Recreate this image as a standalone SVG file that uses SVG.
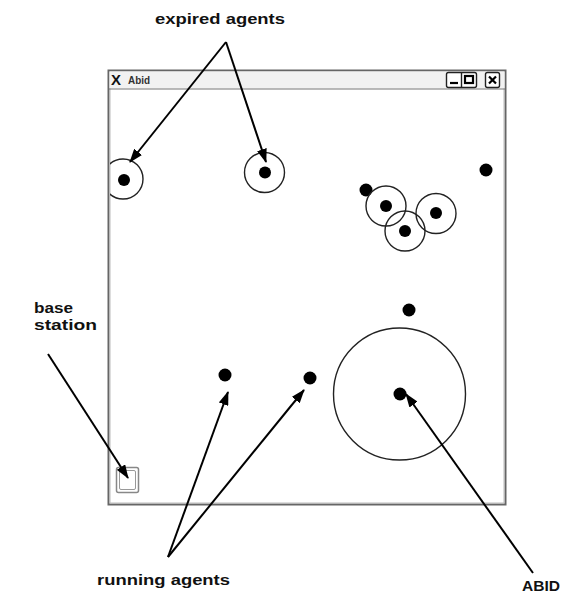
<svg xmlns="http://www.w3.org/2000/svg" width="563" height="596" viewBox="0 0 563 596">
<defs>
<style>
.lbl{font-family:"Liberation Sans",Arial,sans-serif;font-weight:bold;font-size:15px;fill:#111}
.ring{fill:none;stroke:#222;stroke-width:1.4}
.dot{fill:#000}
.arr{stroke:#000;stroke-width:2;fill:none;marker-end:url(#ah)}
</style>
<marker id="ah" viewBox="0 0 14 10" refX="13" refY="5" markerWidth="14" markerHeight="10" markerUnits="userSpaceOnUse" orient="auto">
<path d="M0,0 L14,5 L0,10 Z" fill="#000"/>
</marker>
<clipPath id="win"><rect x="110" y="90" width="394" height="413"/></clipPath>
</defs>
<rect width="563" height="596" fill="#fff"/>
<g id="window">
<rect x="108.5" y="70.5" width="397" height="434" fill="#fff" stroke="#666" stroke-width="2"/>
<rect x="110" y="72" width="394" height="431" fill="none" stroke="#bbb" stroke-width="1"/>
<rect x="109.5" y="71.5" width="395" height="17" fill="#f2f2f2"/>
<line x1="109" y1="89" x2="505" y2="89" stroke="#777" stroke-width="1.2"/>
<text x="111" y="85" font-family="Liberation Sans,sans-serif" font-weight="bold" font-size="15" fill="#111">X</text>
<text x="128" y="84" font-family="Liberation Sans,sans-serif" font-weight="bold" font-size="11" fill="#333" textLength="22" lengthAdjust="spacingAndGlyphs">Abid</text>
<rect x="446.5" y="72.5" width="30" height="15" rx="2" fill="#fff" stroke="#222" stroke-width="1.4"/>
<line x1="461.5" y1="73" x2="461.5" y2="87" stroke="#222" stroke-width="1.4"/>
<line x1="450" y1="83" x2="458" y2="83" stroke="#000" stroke-width="2.2"/>
<rect x="465" y="76" width="8" height="7" fill="none" stroke="#000" stroke-width="2.2"/>
<rect x="485.5" y="72.5" width="14" height="15" rx="2" fill="#fff" stroke="#222" stroke-width="1.4"/>
<path d="M489,76.5 L496,83.5 M496,76.5 L489,83.5" stroke="#000" stroke-width="2.2"/>
</g>
<g id="base-station">
<rect x="116.5" y="467.5" width="22" height="25" rx="2" fill="#fff" stroke="#888" stroke-width="1.5"/>
<rect x="119.5" y="470.5" width="16" height="19" rx="1.5" fill="none" stroke="#999" stroke-width="1"/>
</g>
<g id="expired-agent-1">
<circle class="ring" cx="123" cy="179" r="20" clip-path="url(#win)"/>
<circle class="dot" cx="124" cy="180" r="6"/>
</g>
<g id="expired-agent-2">
<circle class="ring" cx="264.5" cy="172.5" r="20"/>
<circle class="dot" cx="265" cy="172.5" r="6"/>
</g>
<g id="agent-cluster">
<circle class="dot" cx="366" cy="190" r="6.5"/>
<circle class="ring" cx="386" cy="206" r="20"/>
<circle class="dot" cx="386" cy="206" r="6"/>
<circle class="ring" cx="405" cy="231" r="20"/>
<circle class="dot" cx="405" cy="231" r="6"/>
<circle class="ring" cx="436" cy="213.5" r="20"/>
<circle class="dot" cx="436" cy="213" r="6"/>
</g>
<g id="agent-topright"><circle class="dot" cx="486" cy="170" r="6.5"/></g>
<g id="agent-mid"><circle class="dot" cx="409" cy="310" r="6.5"/></g>
<g id="abid">
<circle class="ring" cx="399.5" cy="394" r="66"/>
<circle class="dot" cx="400" cy="394" r="6.5"/>
</g>
<g id="running-agent-1"><circle class="dot" cx="225" cy="375" r="6.5"/></g>
<g id="running-agent-2"><circle class="dot" cx="310" cy="378" r="6.5"/></g>
<g id="labels">
<text class="lbl" x="155" y="24" textLength="130" lengthAdjust="spacingAndGlyphs">expired agents</text>
<text class="lbl" x="34" y="313" textLength="39" lengthAdjust="spacingAndGlyphs">base</text>
<text class="lbl" x="34" y="330" textLength="63" lengthAdjust="spacingAndGlyphs">station</text>
<text class="lbl" x="97" y="585" textLength="133" lengthAdjust="spacingAndGlyphs">running agents</text>
<text class="lbl" x="522" y="591" textLength="38" lengthAdjust="spacingAndGlyphs">ABID</text>
</g>
<g id="connectors">
<line class="arr" x1="226" y1="42" x2="130" y2="162"/>
<line class="arr" x1="226" y1="42" x2="266" y2="162"/>
<line class="arr" x1="48" y1="354" x2="128" y2="478"/>
<line class="arr" x1="168" y1="557" x2="228" y2="392"/>
<line class="arr" x1="168" y1="557" x2="304" y2="390"/>
<line class="arr" x1="533" y1="573" x2="406" y2="394"/>
</g>
</svg>
